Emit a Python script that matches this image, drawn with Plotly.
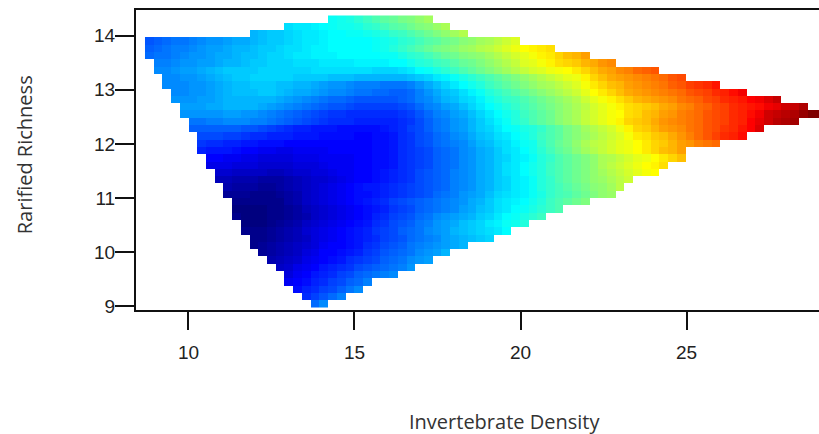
import plotly.graph_objects as go

x_ticks = [10, 15, 20, 25]
y_ticks = [9, 10, 11, 12, 13, 14]
x_title = "Invertebrate Density"
y_title = "Rarified Richness"
x_first, x_step = 8.822, 0.2627
y_first, y_step = 14.303, -0.1348
n_cols = 78

row_first_col = [21,16,12,0,0,0,1,1,2,2,3,3,4,4,5,5,6,6,6,7,7,8,8,9,9,10,10,10,11,11,12,12,13,14,15,16,16,17,18,19]

row_levels = [
[36,37,38,40,42,44,46,47,49,50,52,54],
[32,33,33,34,35,36,37,37,38,40,41,43,45,46,48,50,51,53,55],
[28,29,30,30,31,32,33,33,34,35,35,36,36,37,38,39,41,42,44,46,48,50,52,54,56],
[19,20,21,22,22,23,24,25,25,26,27,27,28,29,30,30,31,32,33,33,34,35,35,35,35,35,36,37,38,40,41,43,45,46,48,49,51,52,54,55,57,59,61],
[20,21,22,23,23,24,25,26,26,27,28,28,29,30,30,31,32,32,33,34,34,35,35,35,35,35,36,37,39,41,43,45,47,49,50,51,53,54,56,57,59,61,63,65,66,67,68],
[21,22,22,23,24,25,25,26,27,27,28,29,29,30,31,31,32,33,33,34,34,34,35,35,35,35,35,36,36,38,40,41,43,45,47,48,50,51,52,54,56,58,60,62,64,66,67,69,71,72,74],
[23,23,24,25,25,26,26,27,28,28,29,30,30,31,31,31,32,32,32,33,33,33,33,34,34,34,34,35,35,37,39,40,42,43,45,47,48,50,52,54,56,58,61,62,64,66,68,69,70,72,73,75,76],
[24,24,25,26,26,27,28,29,30,30,30,30,31,31,31,31,31,31,32,32,32,32,32,32,32,31,31,31,32,33,35,36,38,40,42,44,46,48,50,52,54,56,58,60,61,63,64,65,67,69,71,73,74,76,77,79,80,81],
[24,24,25,25,26,27,28,29,30,30,31,31,31,31,31,30,30,30,30,29,29,29,28,28,28,28,28,28,29,30,31,33,34,36,38,40,42,44,46,48,50,52,54,56,58,60,62,63,66,69,71,73,74,75,76,77,78,79,81,82],
[24,24,24,25,25,26,27,28,29,29,30,30,30,29,29,28,28,27,26,25,25,24,23,23,23,22,22,22,23,25,27,29,31,33,35,37,39,42,44,46,48,50,52,54,55,57,59,61,64,67,69,71,72,74,75,76,77,78,80,81,83,84,85,87],
[24,24,25,25,26,27,28,29,29,29,30,30,29,28,27,27,26,25,24,24,23,22,22,21,21,20,20,21,23,25,27,29,30,32,34,36,39,41,43,45,47,49,51,53,55,57,59,62,65,67,69,71,73,74,75,76,77,78,79,81,82,83,85,86,88,90],
[25,25,25,26,26,27,28,28,28,28,28,28,27,26,25,24,23,22,21,21,20,19,19,19,19,19,20,21,23,24,26,28,29,31,32,34,37,39,41,42,44,46,48,50,52,54,56,59,62,64,66,68,70,72,73,74,75,76,78,79,80,82,83,85,86,87,89,90,92,94],
[26,26,26,27,27,28,28,28,28,27,26,25,24,23,22,21,20,19,19,18,17,17,17,17,17,18,19,21,23,24,26,27,29,31,33,35,37,39,41,43,45,47,49,51,53,55,57,60,62,64,66,68,69,70,71,73,74,76,77,79,80,82,83,85,86,87,88,90,91,93,94,96],
[25,25,25,25,25,26,26,25,25,24,23,22,21,20,19,18,17,16,16,15,15,15,15,15,15,16,17,19,21,23,24,26,27,29,31,33,35,37,39,42,44,46,48,51,53,55,58,60,62,64,65,68,69,71,72,74,75,77,78,79,81,82,83,85,86,88,90,93,94,95,96,98,100,100],
[22,22,23,23,24,24,24,23,23,22,21,20,19,18,17,16,15,15,15,14,14,14,14,14,15,16,18,20,22,23,25,26,28,30,32,34,36,39,41,44,46,48,51,53,55,58,60,62,64,66,69,70,71,73,75,76,77,78,79,81,82,83,85,86,89,91,93,95,96,97],
[20,20,20,20,20,20,19,19,18,17,16,15,14,14,13,13,13,12,12,12,12,12,13,14,15,17,18,20,22,23,25,26,28,30,31,33,35,36,38,39,41,44,46,49,51,54,56,58,60,63,66,69,70,72,74,75,76,78,79,81,82,84,85,87,89,92],
[18,18,18,17,17,16,15,15,14,14,14,13,13,13,12,12,12,12,11,11,12,12,13,15,16,18,19,21,22,24,25,27,29,30,32,33,35,37,39,42,44,46,49,51,53,55,57,59,61,64,67,68,70,71,73,75,77,79,81,83,85,86,88],
[16,15,15,14,14,13,13,12,12,12,11,11,11,11,11,11,11,11,11,11,12,12,13,15,16,18,19,21,22,23,24,26,28,29,31,32,34,36,37,41,44,47,49,52,55,57,58,60,62,63,65,67,69,70,72,74,75,77,78,79],
[14,13,13,13,12,11,11,10,10,9,9,10,10,10,10,11,11,11,11,11,12,12,13,15,16,17,18,20,21,22,24,25,27,28,30,32,33,35,37,40,43,46,48,51,54,56,58,60,62,63,65,67,69,71,72,74],
[11,11,10,10,9,9,8,8,8,8,9,9,9,10,10,10,10,11,11,12,12,13,15,16,17,18,20,21,22,24,25,27,28,30,31,33,34,36,39,41,44,46,48,50,52,55,56,58,60,62,63,65,67,69,71],
[9,9,9,8,8,8,7,7,7,7,8,8,8,9,10,10,10,11,11,12,12,13,15,16,17,18,20,21,22,24,25,27,28,30,32,33,35,37,39,42,44,46,48,50,52,55,57,59,61,63,65,66,68],
[7,7,6,6,6,6,5,5,6,7,7,8,8,9,10,10,11,11,12,13,14,15,16,18,19,20,21,23,24,25,27,28,30,32,33,35,37,39,42,44,46,48,50,52,54,56,58,60,62,64,65],
[5,5,4,4,4,3,3,3,4,5,6,7,7,8,9,10,11,11,12,13,14,15,16,18,19,20,21,23,24,25,27,28,30,31,33,34,36,39,41,44,46,48,50,52,53,55,57,59],
[4,3,3,3,2,2,3,4,5,6,7,8,9,10,11,12,13,13,14,15,16,17,18,19,20,21,23,24,25,27,28,30,31,33,34,36,39,41,43,45,47,49,51,52,54,57],
[2,2,2,1,1,1,2,3,4,6,7,8,9,10,11,12,12,13,14,15,16,17,18,19,21,22,23,25,26,27,29,31,32,33,34,36,38,41,43,44,46,48,50,52,53],
[1,1,1,1,1,1,3,4,6,7,8,9,10,11,12,13,14,15,17,18,19,20,21,22,23,24,25,27,28,30,32,33,34,35,37,39,42,44,46,48,50],
[0,0,0,0,1,1,2,3,5,6,7,8,9,10,11,12,13,14,16,17,18,20,21,22,23,24,26,27,29,30,32,33,35,36,38,40,42,44],
[1,0,0,0,1,1,2,3,4,6,7,8,9,10,11,12,14,15,17,18,19,21,22,24,25,26,27,28,30,31,33,35,36,38,40,42],
[0,0,0,1,2,3,4,6,7,8,9,10,11,12,13,15,16,18,19,20,22,23,25,26,27,29,30,31,33,34,36,37,39],
[1,1,1,2,3,4,5,7,8,9,10,11,12,13,14,16,17,18,20,21,22,24,25,26,28,29,30,31,32,33,35],
[1,1,2,3,4,5,6,8,9,10,11,12,13,14,15,17,18,19,21,22,23,24,26,27,28,29,30,31],
[1,2,3,4,5,6,7,8,10,11,11,12,13,15,16,18,19,20,22,23,24,25,26,27,28],
[2,3,4,5,6,8,9,11,11,12,13,14,16,17,19,20,21,22,24,25,26,28],
[4,5,6,7,9,10,11,12,13,15,16,17,18,20,21,22,24,25,26],
[6,7,9,10,11,13,14,15,16,18,19,20,21,22,23,25],
[8,10,11,13,14,15,17,18,20,21,22,23,24],
[10,11,12,14,15,17,18,20,21,23],
[12,14,15,17,18,20,22,24],
[15,17,19,21,23],
[21,24],
]

jet_stops = [[0, "#00007F"], [0.11, "#0000FF"], [0.35, "#00FFFF"], [0.5, "#7FFF7F"],
             [0.65, "#FFFF00"], [0.89, "#FF0000"], [1, "#7F0000"]]

z = []
for first, levels in zip(row_first_col, row_levels):
    row = [None] * n_cols
    row[first:first + len(levels)] = levels
    z.append(row[:n_cols])

fig = go.Figure(go.Heatmap(z=z, x0=x_first, dx=x_step, y0=y_first, dy=y_step,
                           colorscale=jet_stops, zmin=0, zmax=100, showscale=False,
                           hoverongaps=False))

axis_font = dict(family="Liberation Sans, Arial, sans-serif", size=19, color="#222222")
fig.update_xaxes(range=[8.42, 28.99], tickvals=x_ticks, ticks="outside", ticklen=18,
                 tickwidth=1.5, tickcolor="#111111", showline=True, linewidth=2,
                 linecolor="#111111", mirror=True, showgrid=False, zeroline=False,
                 tickfont=axis_font, ticklabelstandoff=6)
fig.update_yaxes(range=[8.935, 14.472], tickvals=y_ticks, ticks="outside", ticklen=19,
                 tickwidth=1.5, tickcolor="#111111", showline=True, linewidth=2,
                 linecolor="#111111", showgrid=False, zeroline=False, tickfont=axis_font,
                 ticklabelstandoff=-4)

title_font = dict(family="Open Sans, sans-serif", size=20, color="#333333")
fig.update_layout(
    width=819, height=434, margin=dict(l=136, r=0, t=10, b=124, pad=0),
    plot_bgcolor="white", paper_bgcolor="white",
    annotations=[
        dict(text=x_title, xref="paper", yref="paper", x=0.54, y=-0.37,
             xanchor="center", yanchor="middle", showarrow=False, font=title_font),
        dict(text=y_title, xref="paper", yref="paper", x=-0.162, y=0.517,
             xanchor="center", yanchor="middle", showarrow=False, font=title_font,
             textangle=-90),
    ],
)
fig.write_html("out.html", config={"displayModeBar": False},
               post_script="document.body.style.margin='0';")
